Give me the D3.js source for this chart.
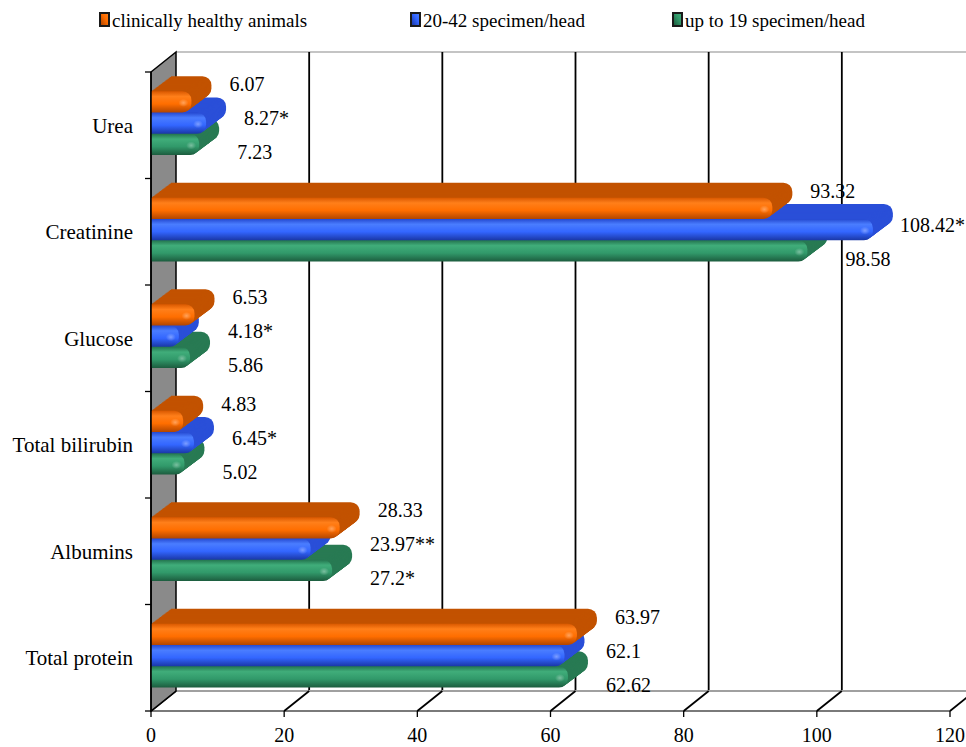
<!DOCTYPE html>
<html><head><meta charset="utf-8">
<script src="https://cdn.jsdelivr.net/npm/d3@7"></script>
<style>body{margin:0;background:#fff}svg{display:block}
svg text{font-family:"Liberation Serif","Times New Roman","DejaVu Serif",serif;}</style>
</head><body>
<svg id="c" width="966" height="747"></svg>
<script>
// ---- data ----
const categories = ["Urea", "Creatinine", "Glucose", "Total bilirubin", "Albumins", "Total protein"];
const seriesNames = ["clinically healthy animals", "20-42 specimen/head", "up to 19 specimen/head"];
const healthy  = [6.07, 93.32, 6.53, 4.83, 28.33, 63.97];
const group2042 = [8.27, 108.42, 4.18, 6.45, 23.97, 62.1];
const upTo19   = [7.23, 98.58, 5.86, 5.02, 27.2, 62.62];
const labelsHealthy = ["6.07", "93.32", "6.53", "4.83", "28.33", "63.97"];
const labels2042   = ["8.27*", "108.42*", "4.18*", "6.45*", "23.97**", "62.1"];
const labelsUpTo19 = ["7.23", "98.58", "5.86", "5.02", "27.2*", "62.62"];
const xTicks = [0, 20, 40, 60, 80, 100, 120];

const seriesValues = [healthy, group2042, upTo19];
const seriesLabels = [labelsHealthy, labels2042, labelsUpTo19];

// ---- styles ----
const pal = [
  {front: ["#d95800", "#ff7f1a", "#ff6e00", "#b24600"], dark: "#c25200"},
  {front: ["#2448d0", "#4a7dff", "#3366ff", "#1a37a6"], dark: "#2a4fd8"},
  {front: ["#23744e", "#40ad7a", "#31996a", "#1c5c3e"], dark: "#287a53"}
];

const svg = d3.select("#c");
const defs = svg.append("defs");
pal.forEach((p, i) => {
  const g = defs.append("linearGradient").attr("id", "gf" + i)
    .attr("x1", 0).attr("y1", 0).attr("x2", 0).attr("y2", 1);
  [[0, p.front[0]], [0.25, p.front[1]], [0.6, p.front[2]], [1, p.front[3]]]
    .forEach(([o, c]) => g.append("stop").attr("offset", o).attr("stop-color", c));
  const lg = defs.append("linearGradient").attr("id", "gl" + i)
    .attr("x1", 0).attr("y1", 1).attr("x2", 1).attr("y2", 0);
  lg.append("stop").attr("offset", 0).attr("stop-color", p.front[3]);
  lg.append("stop").attr("offset", 0.6).attr("stop-color", p.front[2]);
  lg.append("stop").attr("offset", 1).attr("stop-color", p.front[1]);
});
const hl = defs.append("radialGradient").attr("id", "hl");
hl.append("stop").attr("offset", 0).attr("stop-color", "#fff").attr("stop-opacity", 0.35);
hl.append("stop").attr("offset", 1).attr("stop-color", "#fff").attr("stop-opacity", 0);

// ---- geometry ----
const x = d3.scaleLinear().domain([0, 120]).range([151, 950]);
const y = d3.scaleBand().domain(categories).range([72, 711]);
const DX = 25, DY = -20;      // wall depth
const BDX = 20, BDY = -15;    // bar depth
const h = y.bandwidth();
const bh = h * 0.2;
const sub = d3.scaleBand().domain([0, 1, 2]).range([h * 0.18, h * 0.18 + 3 * bh]);
const yTop = y(categories[0]) + DY, yBot = y.range()[1];

// back wall top line
svg.append("line").attr("x1", x(0) + DX).attr("x2", 966).attr("y1", yTop).attr("y2", yTop)
  .attr("stroke", "#b0b0b0").attr("stroke-width", 1.5);
// back gridlines
svg.append("g").selectAll("line").data(xTicks.filter(v => v > 0)).join("line")
  .attr("x1", d => x(d) + DX).attr("x2", d => x(d) + DX)
  .attr("y1", yTop).attr("y2", yBot + DY)
  .attr("stroke", "#000").attr("stroke-width", 1.8);
// floor lines
svg.append("line").attr("x1", x(0) + DX).attr("x2", 966).attr("y1", yBot + DY).attr("y2", yBot + DY)
  .attr("stroke", "#a0a0a0").attr("stroke-width", 2);
svg.append("line").attr("x1", x(0)).attr("x2", x(120)).attr("y1", yBot).attr("y2", yBot)
  .attr("stroke", "#7a7a7a").attr("stroke-width", 2);
svg.append("g").selectAll("line").data(xTicks).join("line")
  .attr("x1", d => x(d)).attr("y1", yBot).attr("x2", d => x(d) + DX).attr("y2", yBot + DY)
  .attr("stroke", "#000").attr("stroke-width", 1.8);
// left wall
svg.append("path")
  .attr("d", `M${x(0)},${y.range()[0]}L${x(0) + DX},${yTop}L${x(0) + DX},${yBot + DY}L${x(0)},${yBot}Z`)
  .attr("fill", "#8a8a8a").attr("stroke", "#000").attr("stroke-width", 1.5);

// ---- bars ----
function rr(x0, y0, w, hh, r) {
  r = Math.min(r, w / 2, hh / 2);
  return `M${x0},${y0}H${x0 + w - r}A${r},${r} 0 0 1 ${x0 + w},${y0 + r}V${y0 + hh - r}` +
         `A${r},${r} 0 0 1 ${x0 + w - r},${y0 + hh}H${x0}Z`;
}
const barsG = svg.append("g");
categories.forEach((cat, ci) => {
  [2, 1, 0].forEach(si => {
    const v = seriesValues[si][ci];
    const x0 = x(0), x1 = x(v), w = x1 - x0;
    const y0 = y(cat) + sub(si);
    const g = barsG.append("g");
    const steps = 18;
    for (let k = steps; k >= 1; k--) {
      const t = k / steps;
      g.append("path").attr("d", rr(x0 + BDX * t, y0 + BDY * t, w, bh, 9))
        .attr("fill", pal[si].dark);
    }
    g.append("path").attr("d", rr(x0, y0, w, bh, 9)).attr("fill", `url(#gf${si})`);
    g.append("ellipse").attr("cx", x1 - 8).attr("cy", y0 + bh * 0.55).attr("rx", 5).attr("ry", 4)
      .attr("fill", "url(#hl)");
  });
});

// ---- axes ----
svg.append("line").attr("x1", x(0)).attr("x2", x(0)).attr("y1", y.range()[0]).attr("y2", yBot)
  .attr("stroke", "#000").attr("stroke-width", 1.5);
const catEdges = categories.map(c => y(c)).concat([yBot]);
svg.append("g").selectAll("line").data(catEdges).join("line")
  .attr("x1", x(0) - 6).attr("x2", x(0)).attr("y1", d => d).attr("y2", d => d)
  .attr("stroke", "#000").attr("stroke-width", 1.3);
svg.append("g").selectAll("line").data(xTicks).join("line")
  .attr("x1", d => x(d)).attr("x2", d => x(d)).attr("y1", yBot).attr("y2", yBot + 6)
  .attr("stroke", "#000").attr("stroke-width", 1.3);
svg.append("g").selectAll("text").data(xTicks).join("text")
  .attr("x", d => x(d)).attr("y", yBot + 24).attr("dy", "0.35em")
  .attr("text-anchor", "middle").attr("font-size", 20)
  .text(d => d);
svg.append("g").selectAll("text").data(categories).join("text")
  .attr("x", 133).attr("y", d => y(d) + h / 2).attr("dy", "0.35em")
  .attr("text-anchor", "end").attr("font-size", 21)
  .text(d => d);

// ---- data labels (placed right of every bar they would cross) ----
const labOff = [12, 46, 80];
const labG = svg.append("g").attr("font-size", 20);
categories.forEach((cat, ci) => {
  [0, 1, 2].forEach(si => {
    const cy = y(cat) + labOff[si];
    let lx = x(seriesValues[si][ci]) + 38;
    [0, 1, 2].forEach(sj => {
      const b0 = y(cat) + sub(sj) + BDY, b1 = y(cat) + sub(sj) + bh;
      if (cy + 5 > b0 && cy - 5 < b1) lx = Math.max(lx, x(seriesValues[sj][ci]) + BDX + 18);
    });
    const t = labG.append("text").attr("x", lx).attr("y", cy).attr("dy", "0.35em")
      .text(seriesLabels[si][ci]);
    const maxX = 965 - t.node().getComputedTextLength();
    if (lx > maxX) t.attr("x", maxX);
  });
});

// ---- legend ----
const legX = [99, 410, 672];
const leg = svg.append("g");
seriesNames.forEach((n, i) => {
  leg.append("rect").attr("x", legX[i]).attr("y", 12).attr("width", 11).attr("height", 15).attr("fill", "#1a1a1a");
  leg.append("rect").attr("x", legX[i] + 2).attr("y", 14).attr("width", 7).attr("height", 11).attr("fill", `url(#gl${i})`);
  leg.append("text").attr("x", legX[i] + 13).attr("y", 20).attr("dy", "0.35em")
    .attr("font-size", 19).text(n);
});
</script>
</body></html>
